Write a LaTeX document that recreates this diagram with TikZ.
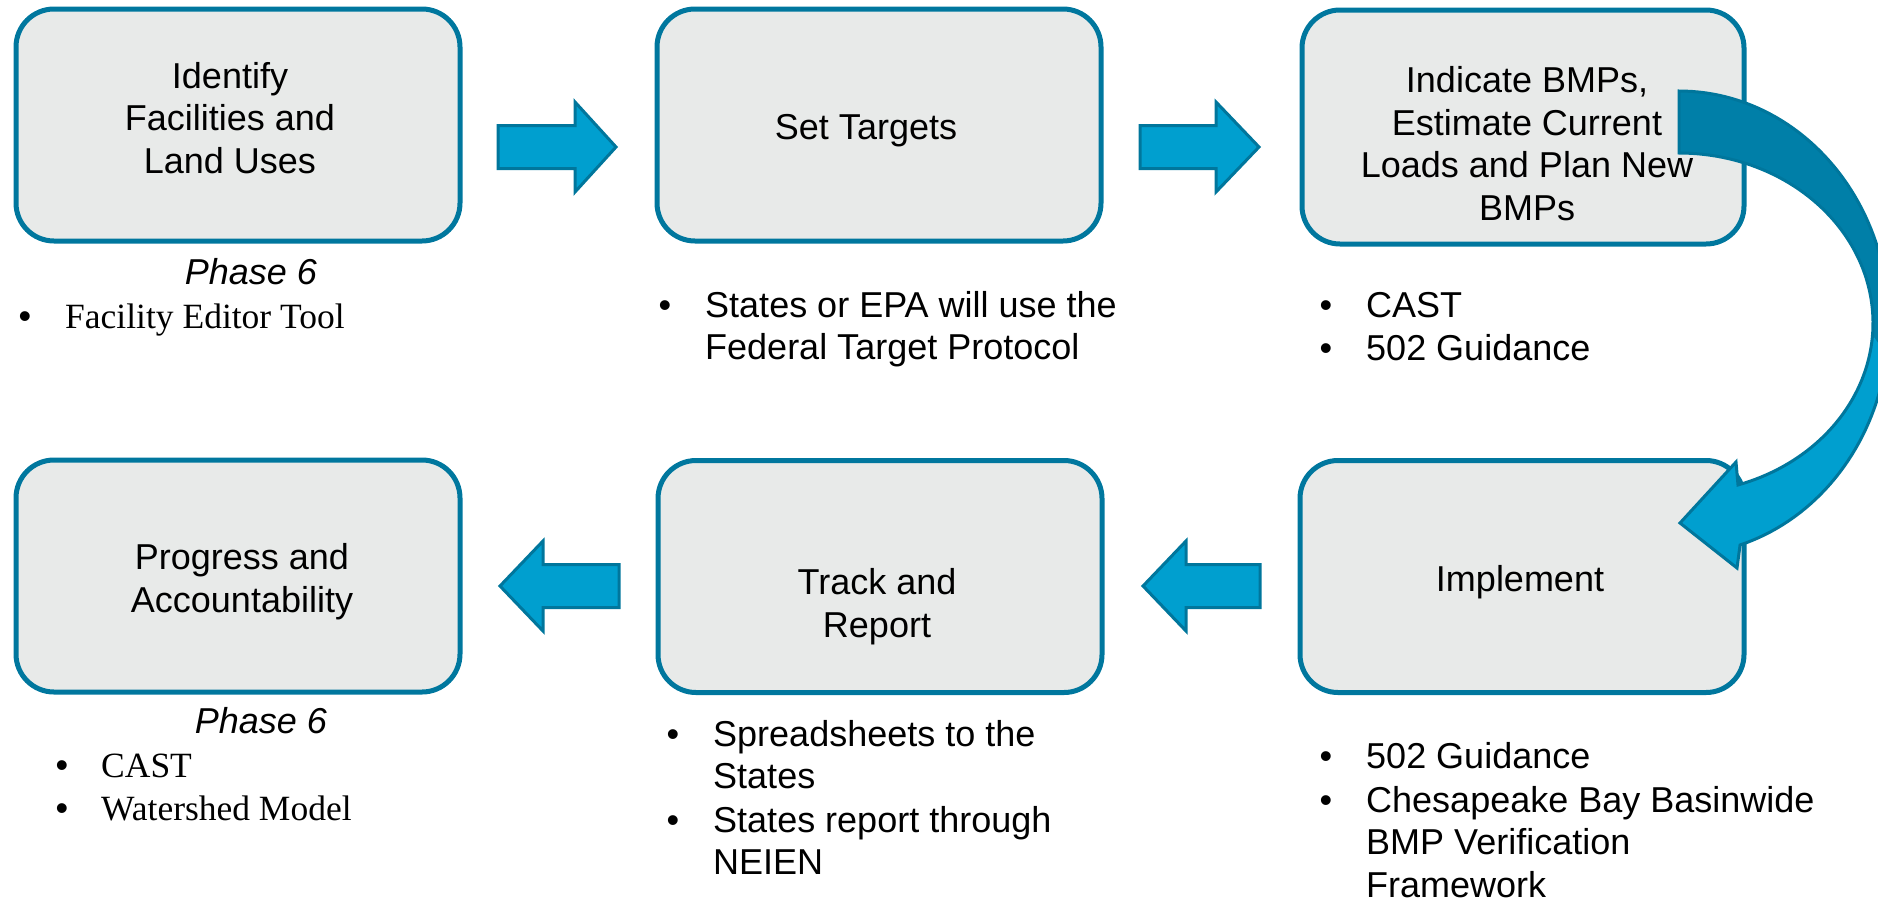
\documentclass[tikz,border=0pt]{standalone}
\usepackage{fontspec}
\setmainfont{Liberation Sans}
\newfontfamily\tnr{Liberation Serif}
\definecolor{boxline}{HTML}{00779E}
\definecolor{boxfill}{HTML}{E8EAE9}
\definecolor{arrowfill}{HTML}{009FCF}
\definecolor{arrowline}{HTML}{00769C}
\definecolor{darkfill}{HTML}{007FA8}
\tikzset{
  stepbox/.style={draw=boxline, line width=5pt, fill=boxfill, rounded corners=38pt, inner sep=0pt},
  boxlabel/.style={font=\fontsize{36}{42.5}\selectfont, align=center, inner sep=0pt, anchor=base},
  itemtext/.style={font=\fontsize{36}{42.5}\selectfont, align=left, inner sep=0pt, anchor=base west},
  serifitem/.style={font=\tnr\fontsize{35.5}{43}\selectfont, align=left, inner sep=0pt, anchor=base west},
  bulletdot/.style={font=\fontsize{36}{42}\selectfont, inner sep=0pt, anchor=base},
  phase/.style={font=\itshape\fontsize{36}{42}\selectfont, inner sep=0pt, anchor=base},
  blockarrow/.style={fill=arrowfill, draw=arrowline, line width=3pt, line join=miter},
}
\begin{document}
\begin{tikzpicture}[x=1pt,y=-1pt]
\useasboundingbox (0,0) rectangle (1878,900);
\clip (0,0) rectangle (1878,900);

% boxes
\node[stepbox, minimum width=444pt, minimum height=232pt] (b1) at (238,125) {};
\node[stepbox, minimum width=444pt, minimum height=232pt] (b2) at (879,125) {};
\node[stepbox, minimum width=442pt, minimum height=234pt] (b3) at (1523,127) {};
\node[stepbox, minimum width=444pt, minimum height=232pt] (b4) at (238,576) {};
\node[stepbox, minimum width=444pt, minimum height=232pt] (b5) at (880,576.5) {};
\node[stepbox, minimum width=444pt, minimum height=232pt] (b6) at (1522,576.5) {};

% box labels (anchored at the baseline of the last line)
\node[boxlabel] (t1) at (230,173) {Identify\\Facilities and\\Land Uses};
\node[boxlabel] (t2) at (866,139) {Set Targets};
\node[boxlabel] (t3) at (1527,220) {Indicate BMPs,\\Estimate Current\\Loads and Plan New\\BMPs};
\node[boxlabel] (t4) at (242,612) {Progress and\\Accountability};
\node[boxlabel] (t5) at (877,637) {Track and\\Report};
\node[boxlabel] (t6) at (1520,591) {Implement};

% straight block arrows
\coordinate (a1) at (498,147);
\coordinate (a2) at (1140,147);
\coordinate (a3) at (1260,586);
\coordinate (a4) at (619,586);
\path[blockarrow] (a1) ++(0,-21.5) -- ++(77,0) -- ++(0,-23.5) -- ++(41,45) -- ++(-41,45) -- ++(0,-23.5) -- ++(-77,0) -- cycle;
\path[blockarrow] (a2) ++(0,-21.5) -- ++(76,0) -- ++(0,-23.5) -- ++(43,45) -- ++(-43,45) -- ++(0,-23.5) -- ++(-76,0) -- cycle;
\path[blockarrow] (a3) ++(0,-21.5) -- ++(-74,0) -- ++(0,-23.5) -- ++(-43,45) -- ++(43,45) -- ++(0,-23.5) -- ++(74,0) -- cycle;
\path[blockarrow] (a4) ++(0,-21.5) -- ++(-76,0) -- ++(0,-23.5) -- ++(-43,45) -- ++(43,45) -- ++(0,-23.5) -- ++(76,0) -- cycle;

% curved arrow from b3 to b6
\coordinate (ctail) at (1679,91);
\coordinate (ctip) at (1680,523);
\fill[arrowfill] (ctail) -- plot[domain=-90:73.1, samples=90, variable=\t] ({1679+210*cos(\t)}, {323+232*sin(\t)})
  -- (1737,568) -- (ctip) -- (1736,462)
  -- plot[domain=72.3:-90, samples=90, variable=\t] ({1679+194*cos(\t)}, {323+170*sin(\t)}) -- cycle;
\fill[darkfill] (ctail) -- plot[domain=-90:8, samples=60, variable=\t] ({1679+210*cos(\t)}, {323+232*sin(\t)})
  -- plot[domain=4:-90, samples=60, variable=\t] ({1679+194*cos(\t)}, {323+170*sin(\t)}) -- cycle;
\draw[draw=arrowline, line width=3pt, line join=miter] (ctail) -- plot[domain=-90:73.1, samples=90, variable=\t] ({1679+210*cos(\t)}, {323+232*sin(\t)})
  -- (1737,568) -- (ctip) -- (1736,462)
  -- plot[domain=72.3:-90, samples=90, variable=\t] ({1679+194*cos(\t)}, {323+170*sin(\t)}) -- cycle;

% notes under box 1
\node[phase] (p1) at (251,284) {Phase 6};
\node[bulletdot] (d1) at (25,328) {•};
\node[serifitem] (i1) at (65,328) {Facility Editor Tool};

% notes under box 2
\node[bulletdot] (d2) at (665,317) {•};
\node[itemtext] (i2) at (705,359.5) {States or EPA will use the\\Federal Target Protocol};

% notes under box 3
\node[bulletdot] (d3a) at (1326,317) {•};
\node[itemtext] (i3a) at (1366,317) {CAST};
\node[bulletdot] (d3b) at (1326,360) {•};
\node[itemtext] (i3b) at (1366,360) {502 Guidance};

% notes under box 4
\node[phase] (p4) at (261,733) {Phase 6};
\node[bulletdot] (d4a) at (62,777) {•};
\node[serifitem] (i4a) at (101,777) {CAST};
\node[bulletdot] (d4b) at (62,820) {•};
\node[serifitem] (i4b) at (101,820) {Watershed Model};

% notes under box 5
\node[bulletdot] (d5a) at (673,746) {•};
\node[itemtext] (i5a) at (713,788.5) {Spreadsheets to the\\States};
\node[bulletdot] (d5b) at (673,832) {•};
\node[itemtext] (i5b) at (713,874.5) {States report through\\NEIEN};

% notes under box 6
\node[bulletdot] (d6a) at (1326,768) {•};
\node[itemtext] (i6a) at (1366,768) {502 Guidance};
\node[bulletdot] (d6b) at (1326,812) {•};
\node[itemtext] (i6b) at (1366,897) {Chesapeake Bay Basinwide\\BMP Verification\\Framework};
\end{tikzpicture}
\end{document}
